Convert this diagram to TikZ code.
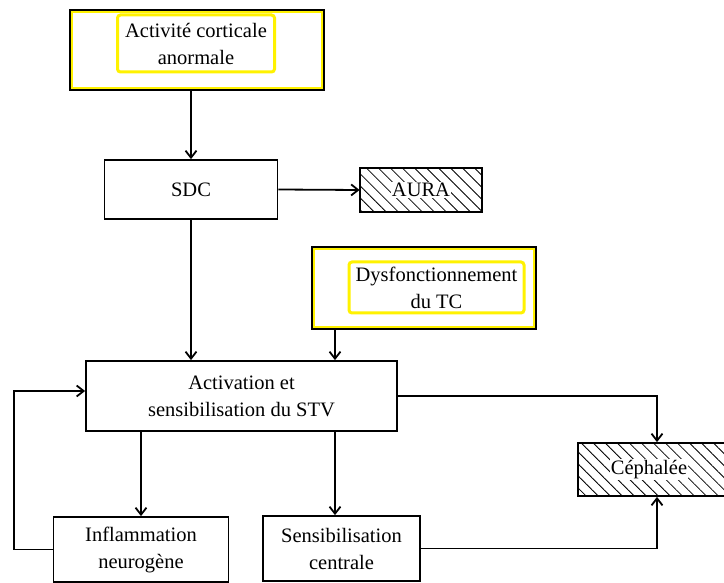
\documentclass[tikz,border=0pt]{standalone}
\usepackage{fontspec}
\setmainfont{Liberation Serif}
\usetikzlibrary{arrows.meta,patterns.meta}
\begin{document}
\begin{tikzpicture}[x=1pt,y=-1pt,font=\fontsize{20.5}{27}\selectfont]
  \tikzstyle{box}=[draw,line width=1.8pt,inner sep=0pt,align=center]
  \tikzstyle{hatched}=[box,pattern={Lines[angle=-45,distance=8.5pt,line width=0.8pt]}]
  \tikzstyle{tag}=[fill=white,inner sep=1pt]
  \tikzstyle{glow}=[draw=yellow,line width=3pt,rounded corners=3pt,inner sep=2pt,align=center]
  \tikzstyle{rim}=[draw=yellow,line width=2.5pt]
  \tikzstyle{arr}=[line width=1.8pt,-{Straight Barb[length=7pt,width=11pt]}]
  \path[fill=white,use as bounding box] (0,0) rectangle (724,583);
  % boxes
  \node[box,minimum width=254pt,minimum height=80pt] (top) at (197,50) {};
  \draw[rim] ([shift={(3pt,-3pt)}]top.north west) rectangle ([shift={(-3pt,3pt)}]top.south east);
  \node[glow,minimum width=157pt,minimum height=57pt] (topin) at (196,43.5) {Activité corticale\\anormale};
  \node[box,minimum width=173pt,minimum height=59pt] (sdc) at (191,189.5) {SDC};
  \node[hatched,minimum width=122pt,minimum height=44pt] (aura) at (421,190) {};
  \node[tag] at (aura) {AURA};
  \node[box,minimum width=224pt,minimum height=82pt] (dysf) at (424,288) {};
  \draw[rim] ([shift={(3pt,-3pt)}]dysf.north west) rectangle ([shift={(-3pt,3pt)}]dysf.south east);
  \node[glow,minimum width=175pt,minimum height=51pt] (dysfin) at (436.5,287.5) {Dysfonctionnement\\du TC};
  \node[box,minimum width=311pt,minimum height=70pt] (stv) at (241.5,396) {Activation et\\sensibilisation du STV};
  \node[box,minimum width=175pt,minimum height=65pt] (infl) at (141,549.5) {Inflammation\\neurogène};
  \node[box,minimum width=157pt,minimum height=65pt] (sens) at (341.5,548.5) {Sensibilisation\\centrale};
  \node[hatched,minimum width=152pt,minimum height=53pt] (ceph) at (654,469.5) {};
  \node[tag] at (649,469.5) {Céphalée};
  % arrows
  \coordinate (c1) at (335,0);
  \coordinate (c2) at (657,0);
  \draw[arr] (top.south -| sdc.north) -- (sdc.north);
  \draw[arr] (sdc.east) -- (aura.west);
  \draw[arr] (sdc.south) -- (sdc.south |- stv.north);
  \draw[arr] (dysf.south -| c1) -- (stv.north -| c1);
  \draw[arr] (stv.south -| infl.north) -- (infl.north);
  \draw[arr] (stv.south -| c1) -- (sens.north -| c1);
  \draw[arr] (infl.west) -- ++(-39,0) |- ([yshift=5pt]stv.west);
  \draw[arr] (stv.east) -| (ceph.north -| c2);
  \draw[arr] (sens.east) -| (ceph.south -| c2);
\end{tikzpicture}
\end{document}
